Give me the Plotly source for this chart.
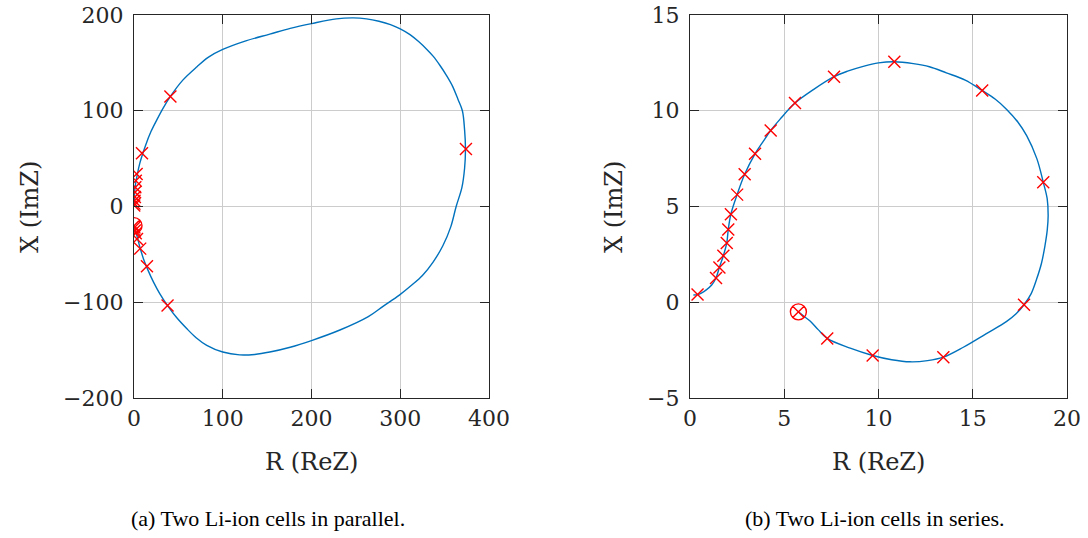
import plotly.graph_objects as go

# ---------------- data: (a) two cells in parallel ----------------
a_curve_R = [0.3, 1.5, 3.4, 6.5, 10.8, 16, 22, 29, 37.8, 48, 59.6, 70, 82, 100, 119, 136, 153, 176, 200, 232,
             264, 281, 299, 313, 325, 337, 348, 357, 363, 369.5, 372.5, 373.5, 372.5, 370, 365, 359, 352, 345, 337,
             330, 321, 311, 300, 289, 276, 262, 247, 228, 200, 176, 153, 126, 100, 84, 71, 55, 41, 33, 26, 19, 12.7,
             6.5, 3.4, 1.5, 0.5, 0.2]
a_curve_X = [-20, -25, -31, -42, -55, -67, -79, -91, -103.5, -116, -127.7, -137, -145, -152, -155, -154.5, -152,
             -147, -140, -129, -115, -104, -92.5, -82, -72, -58, -41, -21, 0, 20, 40, 60, 80, 100, 112, 125.5,
             137, 147, 157, 164, 172, 179.5, 185.5, 190, 193.5, 196, 197, 196, 191, 186, 180, 173, 164, 156, 146,
             132, 115, 103, 91, 78, 63, 45, 32, 22, 12, 0]
a_mark_R = [0.3, 0.5, 0.6, 1.0, 1.2, 1.5, 2.0, 3.0, 9.0, 41, 374, 37.8, 14.6, 7.0, 3.4, 2.0, 1.0, 0.5]
a_mark_X = [1, 3, 6, 10, 15, 20, 27, 34, 55.5, 115, 60, -103.5, -62.5, -44, -34, -28, -25, -22]
a_start_R = [0.0]
a_start_X = [-20]

# ---------------- data: (b) two cells in series ----------------
b_curve_R = [5.75, 6.0, 6.37, 6.8, 7.28, 8.5, 9.69, 10.7, 11.67, 12.6, 13.44, 14.5, 15.7, 16.8, 17.3, 17.72,
             18.1, 18.39, 18.65, 18.83, 18.95, 19.0, 18.95, 18.74, 18.4, 17.86, 17.4, 16.8, 16.2, 15.5,
             14.6, 13.6, 12.7, 11.85, 10.84, 10.0, 9.19, 8.4, 7.64, 6.54, 5.57, 4.77, 4.28, 3.85, 3.45, 2.9,
             2.5, 2.17, 2.03, 1.95, 1.77, 1.56, 1.38, 1.15, 0.88, 0.6, 0.4, 0.18]
b_curve_X = [-0.5, -0.7, -0.98, -1.43, -1.89, -2.4, -2.78, -3.0, -3.11, -3.05, -2.87, -2.35, -1.65, -1.0, -0.6,
             -0.13, 0.45, 1.21, 2.05, 2.95, 3.75, 4.52, 5.4, 6.27, 7.5, 8.7, 9.4, 10.07, 10.6, 11.06,
             11.6, 11.98, 12.3, 12.46, 12.56, 12.5, 12.32, 12.08, 11.78, 11.1, 10.4, 9.55, 8.97, 8.35, 7.75, 6.68,
             5.62, 4.6, 3.8, 3.1, 2.43, 1.82, 1.27, 0.9, 0.66, 0.48, 0.4, 0.38]
b_mark_R = [0.4, 1.38, 1.56, 1.77, 1.95, 2.03, 2.17, 2.5, 2.9, 3.45, 4.28, 5.57, 7.64, 10.84,
            15.5, 18.74, 17.72, 13.44, 9.69, 7.28]
b_mark_X = [0.4, 1.27, 1.82, 2.43, 3.1, 3.8, 4.6, 5.62, 6.68, 7.75, 8.97, 10.4, 11.78, 12.56,
            11.06, 6.27, -0.13, -2.87, -2.78, -1.89]
b_start_R = [5.75]
b_start_X = [-0.5]

a_xticks = [0, 100, 200, 300, 400]
a_yticks = [-200, -100, 0, 100, 200]
b_xticks = [0, 5, 10, 15, 20]
b_yticks = [-5, 0, 5, 10, 15]

x_title = "R (ReZ)"
y_title = "X (ImZ)"
caption_a = "(a) Two Li-ion cells in parallel."
caption_b = "(b) Two Li-ion cells in series."

BLUE = "#0072BD"
RED = "#FF0000"
AX = "#262626"
GRID = "#cccccc"

fig = go.Figure()


def add_panel(cr, cx, mr, mx, sr, sx, xa, ya):
    fig.add_trace(go.Scatter(x=cr, y=cx, mode="lines", line=dict(color=BLUE, width=1.4, shape="spline", smoothing=1.0),
                             xaxis=xa, yaxis=ya, showlegend=False, hoverinfo="skip"))
    fig.add_trace(go.Scatter(x=mr, y=mx, mode="markers",
                             marker=dict(symbol="x-thin", size=12, line=dict(color=RED, width=1.4), color=RED),
                             xaxis=xa, yaxis=ya, showlegend=False))
    fig.add_trace(go.Scatter(x=sr, y=sx, mode="markers",
                             marker=dict(symbol="circle-x-open", size=16, line=dict(color=RED, width=1.4), color=RED),
                             xaxis=xa, yaxis=ya, showlegend=False))


add_panel(a_curve_R, a_curve_X, a_mark_R, a_mark_X, a_start_R, a_start_X, "x", "y")
add_panel(b_curve_R, b_curve_X, b_mark_R, b_mark_X, b_start_R, b_start_X, "x2", "y2")

W, H = 1088, 538


def px(v):
    return v / W


def py(v):
    return 1 - v / H


ydom = [py(398), py(15)]
tickfont = dict(family="DejaVu Serif", size=22, color=AX)


def axis(rng, ticks, dom, anchor, standoff):
    return dict(range=rng, tickvals=ticks, domain=dom, anchor=anchor, showgrid=True, gridcolor=GRID, gridwidth=1,
                zeroline=False, showline=True, linecolor=AX, linewidth=1.3, mirror="ticks", ticks="inside",
                ticklen=9, tickwidth=1.3, tickcolor=AX, tickfont=tickfont, fixedrange=True,
                automargin=False, ticklabelstandoff=standoff)


fig.update_layout(
    width=W, height=H, margin=dict(l=0, r=0, t=0, b=0, autoexpand=False),
    paper_bgcolor="white", plot_bgcolor="white",
    xaxis=axis([0, 400], a_xticks, [px(134), px(489)], "y", 0),
    yaxis=axis([-200, 200], a_yticks, ydom, "x", 5),
    xaxis2=axis([0, 20], b_xticks, [px(690), px(1067)], "y2", 0),
    yaxis2=axis([-5, 15], b_yticks, ydom, "x2", 5),
)

labfont = dict(family="DejaVu Serif", size=24, color=AX)
capfont = dict(family="Liberation Serif", size=22, color="#000000")
ann = [
    dict(x=px(311), y=py(462), text=x_title, font=labfont),
    dict(x=px(878), y=py(462), text=x_title, font=labfont),
    dict(x=px(30), y=py(207), text=y_title, font=labfont, textangle=-90),
    dict(x=px(614), y=py(207), text=y_title, font=labfont, textangle=-90),
    dict(x=px(268), y=py(518), text=caption_a, font=capfont),
    dict(x=px(875), y=py(518), text=caption_b, font=capfont),
]
for a in ann:
    a.update(xref="paper", yref="paper", showarrow=False, xanchor="center", yanchor="middle")
fig.update_layout(annotations=ann)

fig.write_html("out.html", config={"displayModeBar": False},
               post_script="document.body.style.margin='0px';document.body.style.overflow='hidden';")
